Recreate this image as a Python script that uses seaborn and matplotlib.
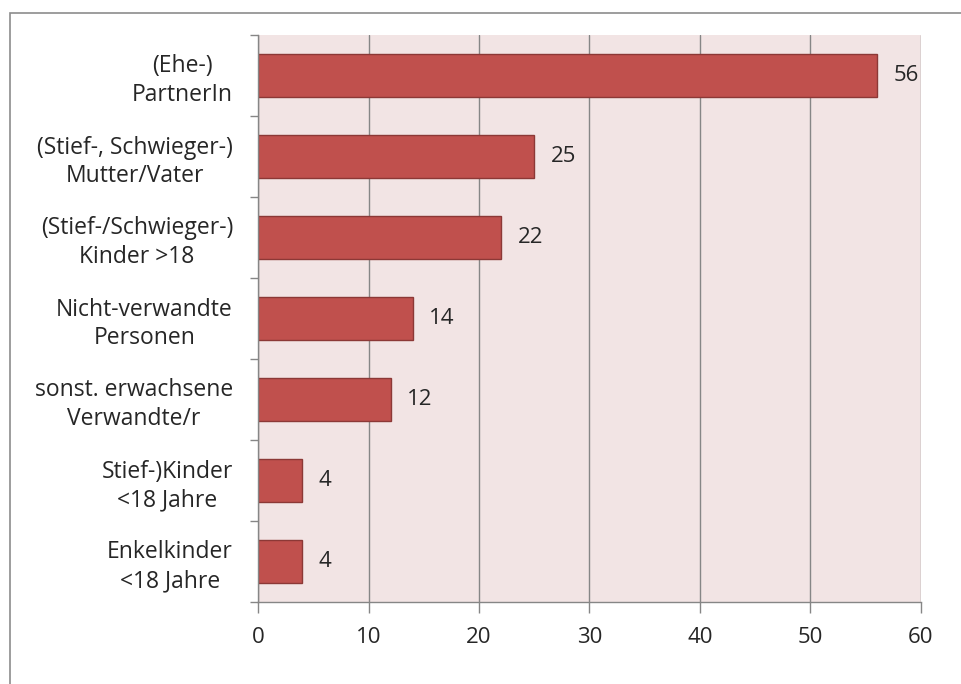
import matplotlib
matplotlib.use("Agg")
import matplotlib.pyplot as plt
import seaborn as sns
import pandas as pd
from matplotlib.patches import Rectangle

# data
categories = [
    "(Ehe-)\nPartnerIn",
    "(Stief-, Schwieger-)\nMutter/Vater",
    "(Stief-/Schwieger-)\nKinder >18",
    "Nicht-verwandte\nPersonen",
    "sonst. erwachsene\nVerwandte/r",
    "Stief-)Kinder\n<18 Jahre",
    "Enkelkinder\n<18 Jahre",
]
values = [56, 25, 22, 14, 12, 4, 4]
x_ticks = [0, 10, 20, 30, 40, 50, 60]

df = pd.DataFrame({"Kategorie": categories, "Anzahl": values})

sns.set_style("white")
plt.rcParams["font.family"] = ["Open Sans", "DejaVu Sans"]

fig = plt.figure(figsize=(9.62, 6.84), dpi=100)
ax = fig.add_axes([258 / 962, 1 - 602 / 684, (921 - 258) / 962, (602 - 35) / 684])

sns.barplot(data=df, y="Kategorie", x="Anzahl", orient="h", ax=ax,
            color="#C0504D", width=0.52, edgecolor="#8C3836", linewidth=1.0,
            saturation=1)

ax.set_facecolor("#F2E4E4")
ax.set_xlim(0, 60)
ax.set_ylim(6.5, -0.5)
ax.set_xticks(x_ticks)
ax.set_xlabel("")
ax.set_ylabel("")

# vertical gridlines
ax.set_axisbelow(True)
ax.grid(axis="x", color="#868686", linewidth=1.0)
ax.grid(axis="y", visible=False)

# category ticks between the bars
ax.set_yticks([i - 0.5 for i in range(len(categories) + 1)], minor=True)
ax.tick_params(axis="y", which="major", length=0, pad=18, labelsize=16.5,
               labelcolor="#262626")
ax.tick_params(axis="y", which="minor", length=6, width=1, color="#868686",
               direction="out", left=True)
ax.tick_params(axis="x", which="major", length=8, width=1, color="#868686",
               direction="out", bottom=True, labelsize=16, labelcolor="#262626",
               pad=10)
for lab in ax.get_yticklabels():
    lab.set_multialignment("center")
    lab.set_linespacing(1.25)

for side in ["top", "right"]:
    ax.spines[side].set_visible(False)
for side in ["left", "bottom"]:
    ax.spines[side].set_color("#868686")
    ax.spines[side].set_linewidth(1.0)

ax.bar_label(ax.containers[0], labels=[str(v) for v in values], padding=12,
             fontsize=16, color="#262626")

# outer chart frame
fig.patches.append(Rectangle((10 / 962, -0.01), 1.0, 1 - 13 / 684 + 0.01,
                             transform=fig.transFigure, fill=False,
                             edgecolor="#8C8C8C", linewidth=1.2))

fig.savefig("out.png", dpi=100)
